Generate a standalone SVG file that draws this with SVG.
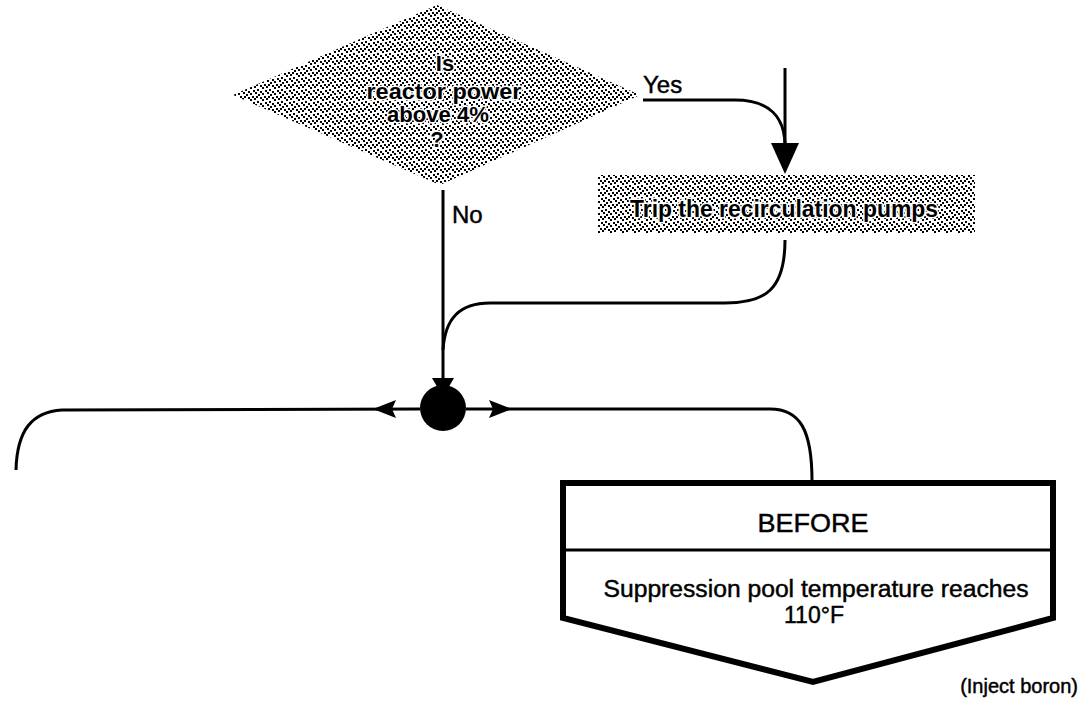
<svg xmlns="http://www.w3.org/2000/svg" width="1089" height="702" viewBox="0 0 1089 702">
  <defs>
    <!-- coarse dither used for the shaded decision and action shapes -->
    <pattern id="stipple" width="12" height="12" patternUnits="userSpaceOnUse">
      <rect width="12" height="12" fill="#fff"/>
      <g fill="#000">
        <rect x="0" y="0" width="2" height="2"/>
        <rect x="2" y="2" width="2" height="2"/>
        <rect x="4" y="0" width="2" height="2"/>
        <rect x="8" y="1" width="2" height="2"/>
        <rect x="10" y="3" width="2" height="2"/>
        <rect x="1" y="6" width="2" height="2"/>
        <rect x="3" y="8" width="2" height="2"/>
        <rect x="5" y="5" width="2" height="2"/>
        <rect x="8" y="7" width="2" height="2"/>
        <rect x="10" y="9" width="2" height="2"/>
        <rect x="6" y="10" width="2" height="2"/>
      </g>
    </pattern>
  </defs>
  <style>
    text { font-family: "Liberation Sans", Arial, sans-serif; fill: #000; stroke: #000; stroke-width: 0.45; }
    .line { fill: none; stroke: #000; stroke-width: 3; }
    .head { fill: #000; stroke: none; }
    .lbl { font-size: 24px; }
    .shade { fill: url(#stipple); stroke: none; }
    /* white halo keeps lettering readable over the dither */
    .halo { font-weight: bold; stroke: #fff; stroke-width: 3; stroke-linejoin: round; paint-order: stroke; }
  </style>
  <rect width="1089" height="702" fill="#fff"/>

  <!-- decision: reactor power check -->
  <g id="decision-power">
    <polygon class="shade" points="437,5 640,95 440,185 233,95"/>
    <g font-size="22" text-anchor="middle">
      <text class="halo" x="445" y="71">Is</text>
      <text class="halo" x="444" y="99" textLength="155" lengthAdjust="spacingAndGlyphs">reactor power</text>
      <text class="halo" x="438" y="122" textLength="102" lengthAdjust="spacingAndGlyphs">above 4%</text>
      <text class="halo" x="437" y="147">?</text>
    </g>
  </g>

  <!-- action: trip the recirculation pumps -->
  <g id="action-trip">
    <rect class="shade" x="598" y="175" width="377" height="58"/>
    <text class="halo" x="784" y="217" font-size="23" text-anchor="middle" textLength="308" lengthAdjust="spacingAndGlyphs">Trip the recirculation pumps</text>
  </g>

  <!-- junction -->
  <g id="junction">
    <circle cx="443" cy="408" r="23" fill="#000"/>
  </g>

  <!-- BEFORE condition block -->
  <g id="before-block">
    <polygon points="563,483 1053,483 1053,618 813,682 563,618" fill="#fff" stroke="#000" stroke-width="6" stroke-linejoin="miter"/>
    <line x1="563" y1="550" x2="1053" y2="550" stroke="#000" stroke-width="3"/>
    <text x="813" y="532" font-size="26" text-anchor="middle" textLength="111" lengthAdjust="spacingAndGlyphs">BEFORE</text>
    <text x="816" y="597" font-size="23" text-anchor="middle" textLength="425" lengthAdjust="spacingAndGlyphs">Suppression pool temperature reaches</text>
    <text x="814" y="623" font-size="23" text-anchor="middle">110°F</text>
  </g>

  <text id="note-boron" x="1078" y="693" font-size="20" text-anchor="end">(Inject boron)</text>

  <!-- connectors -->
  <g id="connectors">
    <!-- No branch down to the junction -->
    <line class="line" x1="443" y1="190" x2="443" y2="382"/>
    <polygon class="head" points="432,378 454,378 443,397"/>
    <text class="lbl" x="452" y="223">No</text>

    <!-- Yes branch into the trip action -->
    <text class="lbl" x="643" y="93">Yes</text>
    <path class="line" d="M643,100 L735,100 C770,100 785,118 785,146"/>
    <line class="line" x1="785" y1="68" x2="785" y2="146"/>
    <polygon class="head" points="771,143 799,143 785,174"/>

    <!-- trip action back to the junction line -->
    <path class="line" d="M785,240 C785,290 765,303 725,303 L490,303 C460,303 445,318 443,350"/>

    <!-- junction to the left branch -->
    <path class="line" d="M420,409 L62,410 C32,412 17,430 16,470"/>
    <polygon class="head" points="373,409 396,400 392,409 396,418"/>

    <!-- junction to the BEFORE block -->
    <path class="line" d="M466,409 L770,409 C800,409 812,430 812,481"/>
    <polygon class="head" points="512,409 489,400 493,409 489,418"/>
  </g>
</svg>
